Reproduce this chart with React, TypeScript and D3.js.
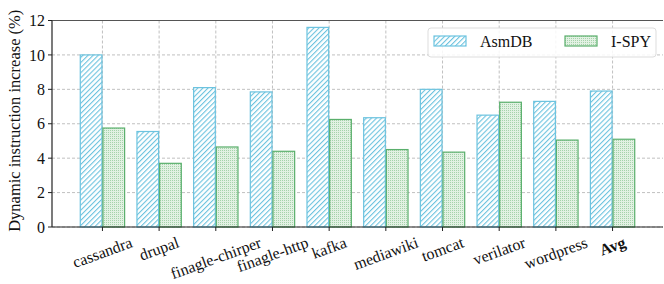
import React, { useEffect, useRef } from 'react';
import * as d3 from 'd3';

const categories = ['cassandra', 'drupal', 'finagle-chirper', 'finagle-http', 'kafka', 'mediawiki', 'tomcat', 'verilator', 'wordpress', 'Avg'];
const asmdb = [10.0, 5.55, 8.1, 7.85, 11.6, 6.35, 8.0, 6.5, 7.3, 7.9];
const ispy = [5.75, 3.7, 4.65, 4.4, 6.25, 4.5, 4.35, 7.25, 5.05, 5.1];
const yTicks = [0, 2, 4, 6, 8, 10, 12];
const seriesNames = ['AsmDB', 'I-SPY'];

const BLUE = '#6cc3df';
const GREEN = '#5aaf6c';
const FONT = '"Liberation Serif", "DejaVu Serif", serif';

const App = () => {
  const ref = useRef<SVGSVGElement>(null);

  useEffect(() => {
    const svg = d3.select(ref.current);
    svg.selectAll('*').remove();
    const width = 664, height = 284;
    const margin = { top: 20.5, right: 1, bottom: 57, left: 52 };

    const defs = svg.append('defs');
    // diagonal '////' hatch
    const hatch = defs.append('pattern')
      .attr('id', 'hatch').attr('patternUnits', 'userSpaceOnUse')
      .attr('width', 3.6).attr('height', 3.6)
      .attr('patternTransform', 'rotate(45)');
    hatch.append('rect').attr('width', 3.6).attr('height', 3.6).attr('fill', '#fff');
    hatch.append('rect').attr('width', 1.1).attr('height', 3.6).attr('fill', BLUE);
    // dotted '....' hatch
    const dots = defs.append('pattern')
      .attr('id', 'dots').attr('patternUnits', 'userSpaceOnUse')
      .attr('width', 2).attr('height', 2);
    dots.append('rect').attr('width', 2).attr('height', 2).attr('fill', '#e2f1e3');
    dots.append('rect').attr('width', 1).attr('height', 1).attr('fill', '#a6d3ab');

    const x = d3.scaleLinear()
      .domain([-0.89, categories.length - 1 + 0.89])
      .range([margin.left, width - margin.right]);
    const y = d3.scaleLinear().domain([0, 12]).range([height - margin.bottom, margin.top]);
    const bw = x(0.4) - x(0);

    const g = svg.append('g');

    // grid
    g.append('g').selectAll('line').data(yTicks).join('line')
      .attr('x1', margin.left).attr('x2', width - margin.right)
      .attr('y1', d => y(d)).attr('y2', d => y(d))
      .attr('stroke', '#b0b0b0').attr('stroke-width', 0.8).attr('stroke-dasharray', '3,2');
    g.append('g').selectAll('line').data(categories).join('line')
      .attr('x1', (d, i) => x(i)).attr('x2', (d, i) => x(i))
      .attr('y1', margin.top).attr('y2', height - margin.bottom)
      .attr('stroke', '#b0b0b0').attr('stroke-width', 0.8).attr('stroke-dasharray', '3,2');

    // bars
    g.append('g').selectAll('rect').data(asmdb).join('rect')
      .attr('x', (d, i) => x(i - 0.4) + 0.5).attr('y', d => y(d))
      .attr('width', bw - 1).attr('height', d => y(0) - y(d))
      .attr('fill', 'url(#hatch)').attr('stroke', BLUE).attr('stroke-width', 1.2);
    g.append('g').selectAll('rect').data(ispy).join('rect')
      .attr('x', (d, i) => x(i) + 0.5).attr('y', d => y(d))
      .attr('width', bw - 1).attr('height', d => y(0) - y(d))
      .attr('fill', 'url(#dots)').attr('stroke', GREEN).attr('stroke-width', 1.2);

    // spines
    g.append('line').attr('x1', margin.left).attr('x2', width - margin.right)
      .attr('y1', y(12)).attr('y2', y(12)).attr('stroke', '#555').attr('stroke-width', 1.2);
    g.append('line').attr('x1', margin.left).attr('x2', width - margin.right)
      .attr('y1', y(0)).attr('y2', y(0)).attr('stroke', '#222').attr('stroke-width', 1.2);
    g.append('line').attr('x1', margin.left).attr('x2', margin.left)
      .attr('y1', y(0)).attr('y2', y(12)).attr('stroke', '#222').attr('stroke-width', 1.2);

    // y axis ticks
    const yt = g.append('g').selectAll('g').data(yTicks).join('g')
      .attr('transform', d => `translate(${margin.left},${y(d)})`);
    yt.append('line').attr('x1', -4).attr('x2', 0).attr('stroke', '#222');
    yt.append('text').attr('x', -7).attr('dy', '0.35em').attr('text-anchor', 'end')
      .style('font-family', FONT).style('font-size', '16px').attr('fill', '#111')
      .text(d => d);

    // x axis ticks, labels rotated about their centre, box top under the axis
    const ang = 20 * Math.PI / 180;
    const xt = g.append('g').selectAll('g').data(categories).join('g')
      .attr('transform', (d, i) => `translate(${x(i)},${y(0)})`);
    xt.append('line').attr('y1', 0).attr('y2', 4).attr('stroke', '#222');
    xt.append('text')
      .attr('text-anchor', 'middle').attr('dominant-baseline', 'central')
      .style('font-family', FONT).style('font-size', '16px').attr('fill', '#111')
      .style('font-weight', d => d === 'Avg' ? 'bold' : 'normal')
      .text(d => d)
      .each(function () {
        const el = this as SVGTextElement;
        const L = el.getComputedTextLength();
        const h = 12;
        const cy = 9 + (L * Math.sin(ang) + h * Math.cos(ang)) / 2;
        d3.select(el).attr('transform', `translate(0,${cy}) rotate(-20)`);
      });

    // y label
    svg.append('text')
      .attr('transform', `translate(20,${(y(0) + y(12)) / 2 - 3}) rotate(-90)`)
      .attr('text-anchor', 'middle')
      .style('font-family', FONT).style('font-size', '16.5px').attr('fill', '#111')
      .text('Dynamic instruction increase (%)');

    // legend
    const lg = svg.append('g').attr('transform', 'translate(428,28)');
    lg.append('rect').attr('width', 228).attr('height', 29).attr('rx', 3)
      .attr('fill', 'rgba(255,255,255,0.85)').attr('stroke', '#ddd');
    const items = lg.selectAll('g.item').data(seriesNames).join('g')
      .attr('class', 'item')
      .attr('transform', (d, i) => `translate(${6 + i * 131},8)`);
    items.append('rect').attr('width', 32).attr('height', 10)
      .attr('fill', (d, i) => i === 0 ? 'url(#hatch)' : 'url(#dots)')
      .attr('stroke', (d, i) => i === 0 ? BLUE : GREEN).attr('stroke-width', 1.2);
    items.append('text').attr('x', 46).attr('y', 5).attr('dy', '0.35em')
      .style('font-family', FONT).style('font-size', '16px').attr('fill', '#111')
      .text(d => d);
  }, []);

  return <svg ref={ref} width={664} height={284} style={{ position: 'absolute', left: 0, top: 0 }} />;
};

export default App;
